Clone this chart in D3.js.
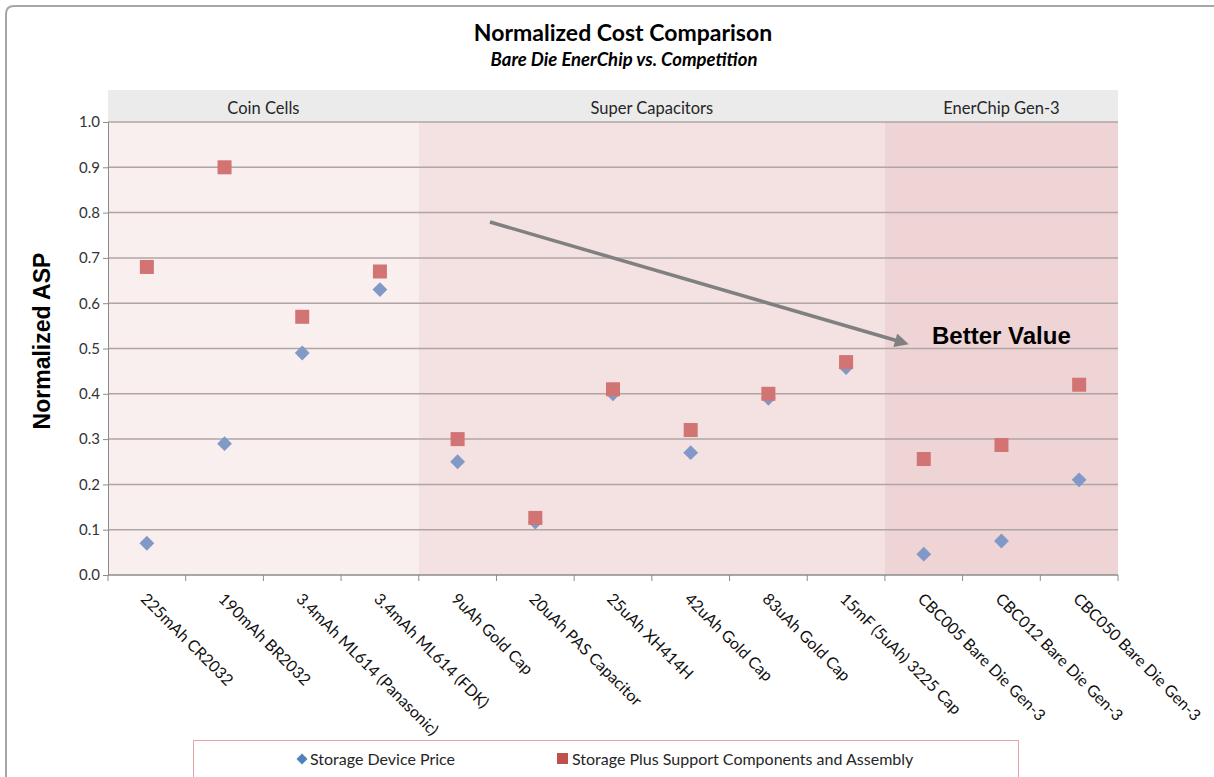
<!DOCTYPE html>
<html><head><meta charset="utf-8">
<script src="https://cdn.jsdelivr.net/npm/d3@7"></script>
<style>body{margin:0;background:#fff}svg{display:block}</style>
</head><body>
<svg id="c" width="1214" height="777"></svg>
<script>
const categories = ["225mAh CR2032","190mAh BR2032","3.4mAh ML614 (Panasonic)","3.4mAh ML614 (FDK)","9uAh Gold Cap","20uAh PAS Capacitor","25uAh XH414H","42uAh Gold Cap","83uAh Gold Cap","15mF (5uAh) 3225 Cap","CBC005 Bare Die Gen-3","CBC012 Bare Die Gen-3","CBC050 Bare Die Gen-3"];
const devicePrice = [0.07,0.29,0.49,0.63,0.25,0.117,0.40,0.27,0.39,0.458,0.046,0.075,0.21];
const plusSupport = [0.68,0.90,0.57,0.67,0.30,0.126,0.41,0.32,0.40,0.47,0.256,0.287,0.42];
const groups = ["Coin Cells","Super Capacitors","EnerChip Gen-3"];
const groupStart = [0,4,10];
const groupEnd = [4,10,13];
const yTicks = [0,0.1,0.2,0.3,0.4,0.5,0.6,0.7,0.8,0.9,1.0];
const seriesNames = ["Storage Device Price","Storage Plus Support Components and Assembly"];

const svg = d3.select("#c");
const L=108,R=1118,T=122,B=575;
const x = d3.scaleBand().domain(d3.range(categories.length)).range([L,R]).padding(0);
const y = d3.scaleLinear().domain([0,1]).range([B,T]);
const font = "Lato, 'Open Sans', sans-serif";

// outer frame
svg.append("path").attr("d","M6,777 L6,14 Q6,6 14,6 L1214,6").attr("fill","none").attr("stroke","#a6a6a6").attr("stroke-width",2);

// title
svg.append("text").attr("x",623).attr("y",41).attr("text-anchor","middle").attr("font-family",font).attr("font-weight","bold").attr("font-size",23).attr("fill","#000").text("Normalized Cost Comparison");
svg.append("text").attr("x",624).attr("y",66).attr("text-anchor","middle").attr("font-family",font).attr("font-weight","bold").attr("font-style","italic").attr("font-size",18.5).attr("fill","#000").text("Bare Die EnerChip vs. Competition");

// header band
svg.append("rect").attr("x",L).attr("y",90).attr("width",R-L).attr("height",T-90).attr("fill","#ebebeb");
const bandColors = ["#f9efef","#f4e1e1","#efd4d5"];
groups.forEach((g,i)=>{
  const x0 = x(groupStart[i]), x1 = x(groupEnd[i]-1)+x.bandwidth();
  svg.append("rect").attr("x",x0).attr("y",T).attr("width",x1-x0).attr("height",B-T).attr("fill",bandColors[i]);
  svg.append("text").attr("x",(x0+x1)/2).attr("y",114).attr("text-anchor","middle").attr("font-family",font).attr("font-size",16.5).attr("fill","#262626").text(g);
});

// gridlines
svg.append("g").selectAll("line").data(yTicks.filter(d=>d>0)).join("line")
  .attr("x1",L).attr("x2",R).attr("y1",d=>y(d)).attr("y2",d=>y(d)).attr("stroke","#b0a4a4").attr("stroke-width",1.5);

// y axis
const ya = svg.append("g").attr("transform",`translate(${L},0)`).call(d3.axisLeft(y).tickValues(yTicks).tickFormat(d3.format(".1f")).tickSize(5).tickPadding(3));
ya.select(".domain").attr("stroke","#8c8c8c");
ya.selectAll(".tick line").attr("stroke","#8c8c8c");
ya.selectAll("text").attr("font-family",font).attr("font-size",15).attr("fill","#333");

// x axis
const xa = svg.append("g").attr("transform",`translate(0,${B})`);
xa.append("line").attr("x1",L).attr("x2",R).attr("stroke","#8c8c8c").attr("stroke-width",1.5);
xa.selectAll("line.t").data(d3.range(categories.length+1)).join("line").attr("class","t")
  .attr("x1",d=>L+d*x.step()).attr("x2",d=>L+d*x.step()).attr("y1",0).attr("y2",6).attr("stroke","#8c8c8c");
xa.selectAll("text").data(categories).join("text")
  .attr("transform",(d,i)=>`translate(${x(i)+x.bandwidth()/2-7},${25}) rotate(45)`)
  .attr("font-family",font).attr("font-size",16).attr("fill","#111").text(d=>d);

// y title
svg.append("text").attr("transform","translate(50,341) rotate(-90)").attr("text-anchor","middle").attr("font-family","Liberation Sans, Arial, sans-serif").attr("font-weight","bold").attr("font-size",23).attr("fill","#000").text("Normalized ASP");

// markers
const cx = i=>x(i)+x.bandwidth()/2;
svg.append("g").selectAll("path").data(devicePrice).join("path")
  .attr("d",d3.symbol(d3.symbolSquare,110))
  .attr("transform",(d,i)=>`translate(${cx(i)},${y(d)}) rotate(45)`).attr("fill","#8099c6");
svg.append("g").selectAll("rect").data(plusSupport).join("rect")
  .attr("x",(d,i)=>cx(i)-7).attr("y",d=>y(d)-7).attr("width",14).attr("height",14).attr("fill","#d27473");

// arrow
svg.append("defs").append("marker").attr("id","ah").attr("viewBox","0 0 10 10").attr("refX",2).attr("refY",5)
  .attr("markerWidth",4.5).attr("markerHeight",4).attr("orient","auto").attr("markerUnits","strokeWidth")
  .append("path").attr("d","M0,0 L10,5 L0,10 z").attr("fill","#808080");
svg.append("line").attr("x1",490).attr("y1",222).attr("x2",898).attr("y2",341).attr("stroke","#808080").attr("stroke-width",3.5).attr("marker-end","url(#ah)");
svg.append("text").attr("x",932).attr("y",344).attr("font-family","Liberation Sans, Arial, sans-serif").attr("font-weight","bold").attr("font-size",24).attr("fill","#000").text("Better Value");

// legend
svg.append("rect").attr("x",193.5).attr("y",740.5).attr("width",825).attr("height",60).attr("fill","#fff").attr("stroke","#e3a5a5");
const lg = svg.append("g").attr("font-family",font).attr("font-size",16).attr("fill","#262626");
lg.append("path").attr("d",d3.symbol(d3.symbolSquare,60)).attr("transform","translate(302,759) rotate(45)").attr("fill","#4f81bd");
lg.append("text").attr("x",310).attr("y",765).text(seriesNames[0]);
lg.append("rect").attr("x",557).attr("y",753).attr("width",11).attr("height",11).attr("fill","#c0504d");
lg.append("text").attr("x",572).attr("y",765).text(seriesNames[1]);
</script>
</body></html>
